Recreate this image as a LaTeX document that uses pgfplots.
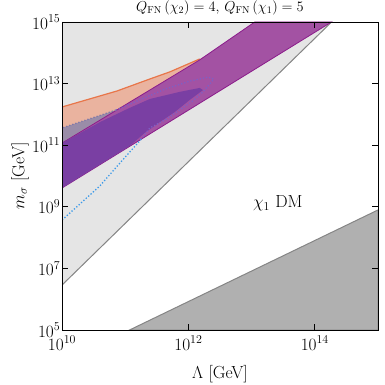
\documentclass[border=0pt]{standalone}
\usepackage{pgfplots}
\pgfplotsset{compat=1.18}
\definecolor{lgray}{HTML}{E5E5E5}
\definecolor{dgray}{HTML}{B0B0B0}
\definecolor{gline}{HTML}{858585}
\definecolor{orfill}{HTML}{EAB39F}
\definecolor{orline}{HTML}{E8764A}
\definecolor{band}{HTML}{A352A3}
\definecolor{bandline}{HTML}{8B1C8B}
\definecolor{leaf}{HTML}{7A3FA3}
\definecolor{wedge}{HTML}{9A8CA8}
\definecolor{bdot}{HTML}{3D9BE9}
\definecolor{vdot}{HTML}{7F5FC5}
\definecolor{gdot}{HTML}{7F78A8}
\begin{document}
\begin{tikzpicture}
\begin{axis}[
  scale only axis, width=316pt, height=308pt,
  xmode=log, ymode=log,
  xmin=1e10, xmax=1e15, ymin=1e5, ymax=1e15,
  xtick={1e10,1e12,1e14}, ytick={1e5,1e7,1e9,1e11,1e13,1e15},
  minor tick style={draw=none},
  tick align=inside, major tick length=6pt,
  tick style={black, line width=0.7pt},
  axis line style={line width=0.8pt},
  tick label style={font=\fontsize{17.5}{18}\selectfont},
  xticklabel style={inner sep=1pt, yshift=-5pt},
  yticklabel style={inner sep=1.5pt, xshift=0pt},
  label style={font=\fontsize{17.5}{18}\selectfont},
  xlabel={$\Lambda$ [GeV]}, ylabel={$m_\sigma$ [GeV]},
  xlabel style={at={(axis description cs:0.5,0)}, anchor=center, yshift=-44pt},
  ylabel style={at={(axis description cs:0,0.5)}, anchor=center, rotate=0, xshift=0pt, yshift=42pt},
  title={$Q_{\rm FN}\,(\chi_2) = 4,\, Q_{\rm FN}\,(\chi_1) = 5$},
  title style={font=\fontsize{14.5}{15}\selectfont, at={(0.5,1)}, anchor=south, inner sep=0pt, yshift=1pt},
  axis on top,
]
% light gray excluded region
\addplot[fill=lgray, draw=none] coordinates {(1e10,1e15) (1.84e14,1e15) (1e10,2.88e6)} -- cycle;
\addplot[gline, line width=1pt] coordinates {(1e10,2.88e6) (1.84e14,1e15)};
% dark gray region
\addplot[fill=dgray, draw=gline, line width=1pt] coordinates {(1.17e11,1e5) (1e15,7.9e8) (1e15,1e5)} -- cycle;
% orange region
\addplot[fill=orfill, draw=none] coordinates {(1e10,1.74e12) (7.4e10,5.75e12) (2.45e11,1.41e13) (5.08e11,2.4e13) (1.51e12,6.31e13) (6.46e12,2.63e14) (1.51e12,6.17e12) (1e10,3.31e10)} -- cycle;
\addplot[orline, line width=1.2pt] coordinates {(1e10,1.74e12) (7.4e10,5.75e12) (2.45e11,1.41e13) (5.08e11,2.4e13) (1.51e12,6.31e13)};
% grayish wedge
\addplot[fill=wedge, draw=none] coordinates {(1e10,3.63e11) (7.13e10,1.38e12) (1e10,1.17e11)} -- cycle;
% magenta band
\addplot[fill=band, draw=bandline, line width=0.8pt] coordinates {(1e10,1.17e11) (1.51e12,5.89e13) (1.12e13,1e15) (1.84e14,1e15) (1e10,4.07e9)} -- cycle;
% dark violet leaf
\addplot[fill=leaf, draw=none] coordinates {(1e10,1.17e11) (3.98e10,5.62e11) (1.17e11,1.62e12) (2.45e11,3.16e12) (7.24e11,5.37e12) (1.51e12,7.24e12) (1.70e12,6.17e12) (1.05e12,2.95e12) (6.10e11,1.20e12) (3.55e11,5.62e11) (2.04e11,2.51e11) (1.17e11,9.33e10) (1e10,4.07e9)} -- cycle;
% dotted contour
\addplot[bdot, line width=1.3pt, dash pattern=on 1.3pt off 1.9pt] coordinates {(1e10,3.72e8) (1.92e10,1.23e9) (3.98e10,4.79e9) (8.24e10,2.63e10) (1.78e11,1.55e11)};
\addplot[vdot, line width=1.3pt, dash pattern=on 1.3pt off 1.9pt] coordinates {(1.78e11,1.55e11) (2.45e11,3.63e11) (4.27e11,6.61e11) (7.24e11,1.38e12) (1.17e12,2.75e12) (1.70e12,5.37e12) (2.19e12,9.77e12) (2.51e12,1.41e13) (2.04e12,1.62e13) (1.05e12,1.20e13) (4.27e11,6.61e12) (1.70e11,2.95e12) (7.13e10,1.38e12)};
\addplot[gdot, line width=1.3pt, dash pattern=on 1.3pt off 1.9pt] coordinates {(7.13e10,1.38e12) (1e10,3.63e11)};
\node[font=\fontsize{17.5}{18}\selectfont] at (axis cs:2.6e13,1.3e9) {$\chi_1$ DM};
\end{axis}
\pgfresetboundingbox
\path ([shift={(-62pt,-54pt)}]current axis.south west) rectangle ([shift={(7pt,22pt)}]current axis.north east);
\end{tikzpicture}
\end{document}
